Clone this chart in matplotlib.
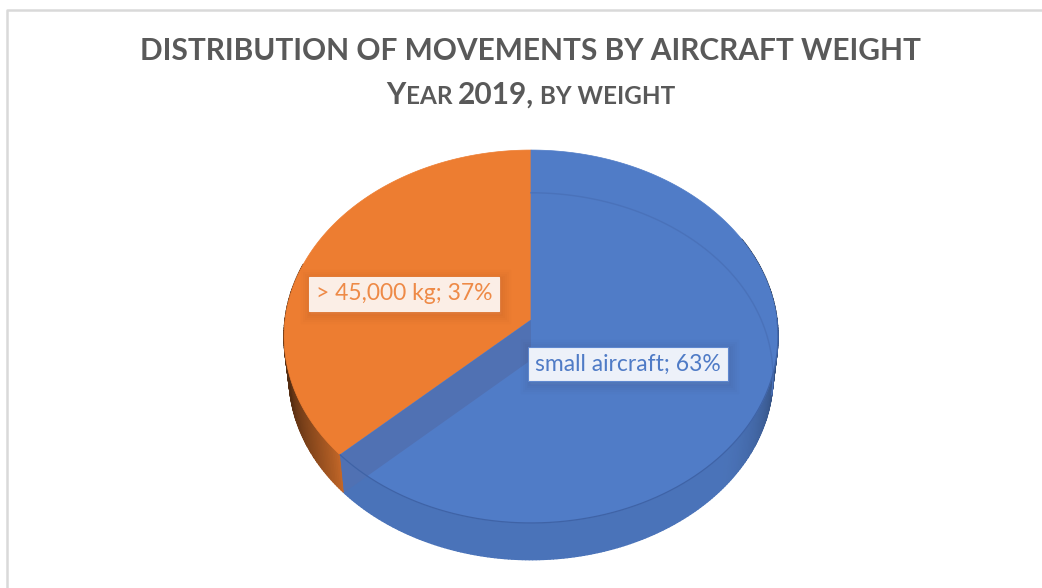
import numpy as np
import matplotlib
matplotlib.use('Agg')
import matplotlib.pyplot as plt
from matplotlib.patches import Polygon
from matplotlib.collections import PolyCollection
import matplotlib.patheffects as pe

plt.rcParams['font.family'] = ['Lato', 'DejaVu Sans']

categories = ['small aircraft', '> 45,000 kg']
shares = [63, 37]
title = 'DISTRIBUTION OF MOVEMENTS BY AIRCRAFT WEIGHT'
subtitle_parts = [('Y', 21.5), ('EAR ', 17.5), ('2019,', 21.5), (' BY WEIGHT', 17.5)]

blue = '#507cc7'
orange = '#ed7d31'
band = '#5071b3'
grey = '#595959'


def project(theta, cx, cy, a, b, k=0.0885):
    # theta clockwise from 12 o'clock, slight perspective on the disc
    u, v = np.sin(theta), np.cos(theta)
    w = 1 + k * v
    return np.column_stack([cx + a * u / w, cy - b * v / w])


def top_rim(theta):
    return project(theta, 531, 320, 246, 185)


def low_rim(theta):
    return project(theta, 531, 360, 241, 182)


def shade(col, f):
    return tuple(np.array(matplotlib.colors.to_rgb(col)) * f)


fig = plt.figure(figsize=(10.42, 5.88), dpi=100)
ax = fig.add_axes([0, 0, 1, 1])
ax.set_xlim(0, 1042)
ax.set_ylim(588, 0)
ax.axis('off')

# frame of the chart area
ax.plot([7, 7, 1042], [588, 9.5, 9.5], color='#d9d9d9', lw=1.8)

cut = 2 * np.pi * shares[0] / sum(shares)
t_blue = np.linspace(0, cut, 200)
t_orange = np.linspace(cut, 2 * np.pi, 120)
apex_top = np.array([531, 320])
apex_low = np.array([531, 360])

# outer wall, darker towards the sides
t_wall = np.linspace(np.pi * 0.35, 2 * np.pi * 0.80, 300)
quads, cols = [], []
for t0, t1 in zip(t_wall[:-1], t_wall[1:]):
    seg = np.array([t0, t1])
    p, q = top_rim(seg), low_rim(seg)
    quads.append([p[0], p[1], q[1], q[0]])
    tm = 0.5 * (t0 + t1)
    if tm < cut:
        f = 0.93 - 0.62 * np.clip((np.pi * 0.74 - tm) / (np.pi * 0.30), 0, 1) ** 1.4
        cols.append(shade(blue, f))
    else:
        f = 0.85 - 0.5 * np.clip((tm - cut) / 0.55, 0, 1) ** 0.7
        cols.append(shade(orange, f))
ax.add_collection(PolyCollection(quads, facecolors=cols, edgecolors=cols, lw=1, zorder=2))

# top faces
ax.add_patch(Polygon(np.vstack([apex_top, top_rim(t_orange)]), fc=orange, ec=orange, lw=0.5, zorder=3))
ax.add_patch(Polygon(np.vstack([apex_top, top_rim(t_blue)]), fc=blue, ec=blue, lw=0.5, zorder=3))

# blue is see-through in the original: cut wall and back rim show up
cut_arr = np.array([cut])
wall = [apex_top, top_rim(cut_arr)[0], low_rim(cut_arr)[0], apex_low]
ax.add_patch(Polygon(wall, fc=band, ec='none', zorder=4))
t_back = np.linspace(0, np.pi * 0.56, 120)
ax.plot(*low_rim(t_back).T, color='#4a72ba', lw=1, zorder=4)
t_front = np.linspace(np.pi * 0.5, cut, 160)
ax.plot(*top_rim(t_front).T, color='#3f63a6', lw=0.9, zorder=5)

# titles
ax.text(530.5, 51, title, ha='center', va='center', fontsize=21.5, fontweight='bold', color=grey)

fig.canvas.draw()
rend = fig.canvas.get_renderer()
pieces, total = [], 0
for s, fs in subtitle_parts:
    t = ax.text(0, 104, s.replace(' ', '\u00a0'), ha='left', va='baseline', fontsize=fs,
                fontweight='bold', color=grey)
    w = t.get_window_extent(rend).width
    pieces.append((t, w))
    total += w
x = 531 - total / 2
for t, w in pieces:
    t.set_x(x)
    x += w


def data_label(x, y, name, val, col, fc, ec):
    s = '%s; %d%%' % (name, val)
    # soft drop shadow built from a few faint strokes
    glow = [pe.Stroke(offset=(1, -2), linewidth=lw, foreground='k', alpha=0.012) for lw in (14, 11, 8, 5, 3)]
    ax.text(x, y, s, ha='center', va='center', fontsize=16.5, color=col, zorder=8,
            bbox=dict(boxstyle='square,pad=0.3', fc=fc, ec=ec, lw=0.8,
                      path_effects=glow + [pe.Normal()]))


data_label(628, 364, categories[0], shares[0], '#4f7bc6', '#edf1f9', '#5f88cf')
data_label(404, 294, categories[1], shares[1], '#ee8a47', '#fbeee6', '#fbeee6')

fig.savefig('out.png', dpi=100)
